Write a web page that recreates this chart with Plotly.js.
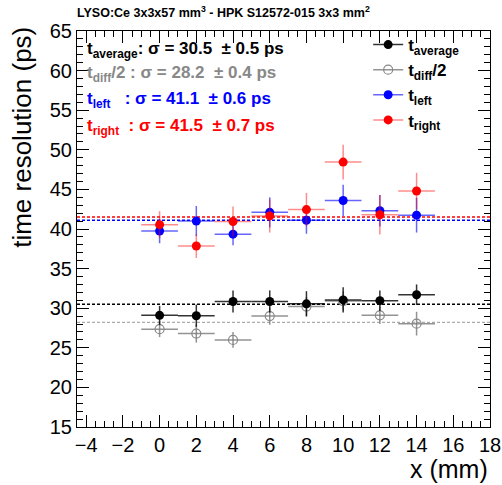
<!DOCTYPE html>
<html>
<head>
<meta charset="utf-8">
<script src="https://cdn.plot.ly/plotly-3.0.1.min.js"></script>
<style>html,body{margin:0;padding:0;background:#fff}#plot{width:502px;height:485px}</style>
</head>
<body>
<div id="plot"></div>
<script>
// ---- data ----
var positions = [0, 2, 4, 6, 8, 10, 12, 14];
var posErr = [1, 1, 1, 1, 1, 1, 1, 1];
var tAverage = [29.1, 29.05, 30.85, 30.85, 30.55, 31.05, 30.95, 31.7];
var tAverageErr = [1.2, 1.4, 1.4, 1.4, 1.6, 1.6, 1.3, 1.3];
var tDiffHalf = [27.35, 26.8, 26.0, 29.0, 30.2, 30.9, 29.1, 28.05];
var tDiffHalfErr = [1.0, 1.15, 1.0, 1.1, 1.2, 1.2, 1.1, 1.5];
var tLeft = [39.75, 41.0, 39.35, 42.1, 41.1, 43.6, 42.3, 41.75];
var tLeftErr = [1.55, 1.9, 1.4, 1.9, 1.7, 2.0, 2.0, 2.2];
var tRight = [40.55, 37.85, 40.95, 41.65, 42.45, 48.45, 41.8, 44.8];
var tRightErr = [1.7, 1.5, 1.9, 2.1, 2.1, 2.2, 2.5, 2.3];
var seriesNames = ["t<sub>average</sub>", "t<sub>diff</sub>/2", "t<sub>left</sub>", "t<sub>right</sub>"];
var fitSigma = [30.5, 28.2, 41.1, 41.5];
var fitSigmaErr = [0.5, 0.4, 0.6, 0.7];
var fitLabels = ["t<sub>average</sub>:", "t<sub>diff</sub>/2 :", "t<sub>left</sub>\u00a0\u00a0\u00a0:", "t<sub>right</sub>\u00a0\u00a0:"];
var titleText = "LYSO:Ce 3x3x57 mm<sup>3</sup> - HPK S12572-015 3x3 mm<sup>2</sup>";
var xTitle = "x (mm)";
var yTitle = "time resolution (ps)";

// ---- styles ----
var colors = ["#000000", "#888888", "#0000ff", "#ff0000"];
var barColors = ["rgba(0,0,0,0.8)", "rgba(120,120,120,0.8)", "rgba(0,0,255,0.6)", "rgba(255,0,0,0.45)"];
var fitDash = ["3px,2px", "3px,2px", "3px,2px", "3px,2px"];
var fitColors = ["#000000", "#aaaaaa", "#0000ff", "#ff0000"];
var fitWidth = [1.5, 1.2, 1.5, 1.5];
var ys = [tAverage, tDiffHalf, tLeft, tRight];
var yErrs = [tAverageErr, tDiffHalfErr, tLeftErr, tRightErr];
var FONT = "Liberation Sans, Arial, Helvetica, sans-serif";

function markerFor(i) {
  return (i === 1) ? {symbol: "circle-open", size: 9, color: colors[i], line: {width: 1.2, color: colors[i]}}
                   : {symbol: "circle", size: 9, color: colors[i]};
}
function dataTrace(i) {
  return {
    type: "scatter", mode: "markers", x: positions, y: ys[i], showlegend: false,
    marker: markerFor(i),
    error_y: {type: "data", array: yErrs[i], visible: true, width: 0, thickness: 1.5, color: barColors[i]},
    error_x: {type: "data", array: posErr, visible: true, width: 0, thickness: 1.5, color: barColors[i]},
    hoverinfo: "x+y"
  };
}
function legendTrace(i) {
  return {
    type: "scatter", mode: "lines+markers", x: [null], y: [null], name: seriesNames[i],
    line: {color: barColors[i], width: 1.5}, marker: markerFor(i)
  };
}
var order = [1, 0, 2, 3];
var traces = [];
order.forEach(function (i) { traces.push(dataTrace(i)); });
[0, 1, 2, 3].forEach(function (i) { traces.push(legendTrace(i)); });

var shapes = fitSigma.map(function (v, i) {
  return {type: "line", xref: "paper", x0: 0, x1: 1, yref: "y", y0: v, y1: v,
          line: {color: fitColors[i], width: fitWidth[i], dash: fitDash[i]}, layer: "below"};
});

var annYs = [0.952, 0.892, 0.826, 0.758];
var annotations = fitSigma.map(function (v, i) {
  return {xref: "paper", yref: "paper", x: 0.02, y: annYs[i], xanchor: "left", yanchor: "middle",
          showarrow: false,
          text: fitLabels[i] + " \u03c3 = " + v.toFixed(1) + "\u00a0 \u00b1 " + fitSigmaErr[i].toFixed(1) + " ps",
          font: {family: FONT, size: 17, color: colors[i], weight: "bold"}};
});
annotations.push({xref: "paper", yref: "paper", x: 1.0, y: -0.066, xanchor: "right", yanchor: "top",
  showarrow: false, text: xTitle, font: {family: FONT, size: 25, color: "#000"}});
annotations.push({xref: "paper", yref: "paper", x: -0.135, y: 1.015, xanchor: "center", yanchor: "top",
  textangle: -90, showarrow: false, text: yTitle, font: {family: FONT, size: 26, color: "#000"}});

var axisCommon = {
  showline: true, linecolor: "#000", linewidth: 1, mirror: "allticks",
  ticks: "inside", ticklen: 12, tickwidth: 1, tickcolor: "#000",
  showgrid: false, zeroline: false,
  tickfont: {family: FONT, size: 20, color: "#000"}
};
var layout = {
  width: 502, height: 485,
  margin: {l: 77, r: 12, t: 31, b: 58},
  paper_bgcolor: "#fff", plot_bgcolor: "#fff",
  title: {text: titleText, x: 77 / 502, xanchor: "left", xref: "container", y: 1 - 13 / 485, yanchor: "middle",
          font: {family: FONT, size: 12.5, color: "#000", weight: "bold"}},
  xaxis: Object.assign({}, axisCommon, {range: [-4.5, 18], tick0: 0, dtick: 2,
          minor: {ticks: "inside", dtick: 0.5, tick0: 0, ticklen: 6, tickcolor: "#000", showgrid: false}}),
  yaxis: Object.assign({}, axisCommon, {range: [15, 65], tick0: 0, dtick: 5,
          minor: {ticks: "inside", dtick: 1, tick0: 0, ticklen: 6, tickcolor: "#000", showgrid: false}}),
  showlegend: true,
  legend: {x: 0.705, y: 1.01, xanchor: "left", yanchor: "top", bgcolor: "rgba(0,0,0,0)",
           font: {family: FONT, size: 17, color: "#000", weight: "bold"}, traceorder: "normal",
           itemwidth: 30},
  shapes: shapes,
  annotations: annotations
};
Plotly.newPlot("plot", traces, layout, {displayModeBar: false, staticPlot: true});
</script>
</body>
</html>
